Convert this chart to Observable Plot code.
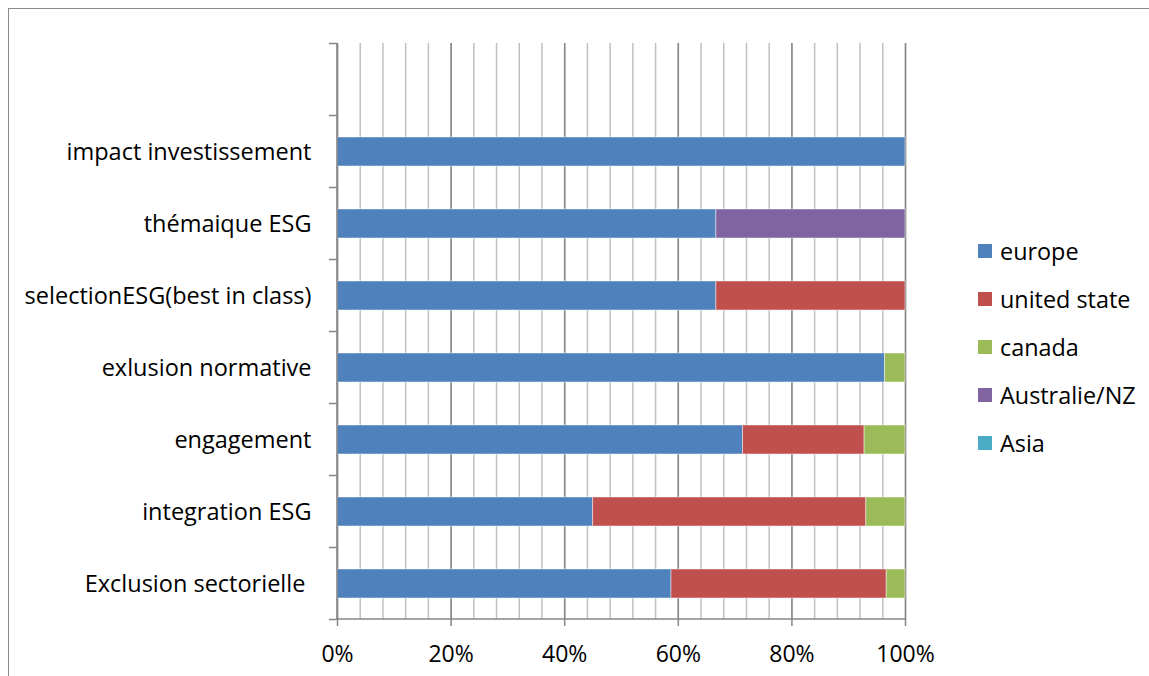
<!DOCTYPE html>
<html>
<head>
<meta charset="utf-8">
<script src="https://cdn.jsdelivr.net/npm/d3@7"></script>
<script src="https://cdn.jsdelivr.net/npm/@observablehq/plot@0.6"></script>
<style>
  html, body { margin: 0; padding: 0; background: #fff; }
  #wrap { position: relative; width: 1149px; height: 676px; overflow: hidden; font-family: "Open Sans", sans-serif; }
  #border { position: absolute; left: 8px; top: 8px; width: 2000px; height: 2000px; border-left: 1.5px solid #8c8c8c; border-top: 1.5px solid #8c8c8c; }
  #chart { position: absolute; left: 0; top: 0; }
  #chart svg text { white-space: pre; }
  #legend { position: absolute; left: 978px; top: 227px; }
  .item { display: flex; align-items: center; height: 48px; font-size: 23.4px; color: #000; }
  .sw { width: 14px; height: 14px; margin-right: 8px; }
</style>
</head>
<body>
<div id="wrap">
  <div id="border"></div>
  <div id="chart"></div>
  <div id="legend"></div>
</div>
<script>
// Strategy categories, bottom to top (last slot is left empty)
const categories = [
  "Exclusion sectorielle ",
  "integration ESG",
  "engagement",
  "exlusion normative",
  "selectionESG(best in class)",
  "thémaique ESG",
  "impact investissement",
  ""
];

// Share of each region per strategy
const europe      = [0.588, 0.450, 0.714, 0.964, 0.667, 0.667, 1.000, 0];
const unitedState = [0.379, 0.481, 0.214, 0.000, 0.333, 0.000, 0.000, 0];
const canada      = [0.033, 0.069, 0.072, 0.036, 0.000, 0.000, 0.000, 0];
const australieNZ = [0.000, 0.000, 0.000, 0.000, 0.000, 0.333, 0.000, 0];
const asia        = [0.000, 0.000, 0.000, 0.000, 0.000, 0.000, 0.000, 0];

const seriesNames  = ["europe", "united state", "canada", "Australie/NZ", "Asia"];
const seriesValues = [europe, unitedState, canada, australieNZ, asia];
const seriesColors = ["#4F81BD", "#C0504D", "#9BBB59", "#8064A2", "#4BACC6"];

const xTicks = [0, 0.2, 0.4, 0.6, 0.8, 1];
const minorTicks = d3.range(0, 26).map(i => i / 25);

// Long table for the stacked bars
const rows = [];
seriesNames.forEach((name, s) => {
  categories.forEach((cat, i) => {
    rows.push({category: cat, region: name, value: seriesValues[s][i]});
  });
});

const axisGray = "#868686";
const gridGray = "#c0c0c0";

// Category axis line with ticks on the band boundaries, plus the bottom axis line
function frameAndBandTicks(index, scales, values, dimensions) {
  const {width, height, marginLeft, marginRight, marginTop, marginBottom} = dimensions;
  const y = scales.y;
  const step = y.step(), bw = y.bandwidth();
  const g = d3.create("svg:g").attr("stroke", axisGray).attr("stroke-width", 1.5);
  const x0 = marginLeft, bottom = height - marginBottom;
  g.append("line").attr("x1", x0).attr("x2", x0).attr("y1", marginTop).attr("y2", bottom);
  g.append("line").attr("x1", x0).attr("x2", width - marginRight).attr("y1", bottom).attr("y2", bottom);
  const edges = y.domain().map(d => y(d) - (step - bw) / 2);
  edges.push(edges[edges.length - 1] + step);
  for (const e of edges) {
    g.append("line").attr("x1", x0 - 8).attr("x2", x0).attr("y1", e).attr("y2", e);
  }
  return g.node();
}

const plot = Plot.plot({
  width: 1149,
  height: 676,
  marginLeft: 337,
  marginRight: 244,
  marginTop: 43,
  marginBottom: 57,
  style: {fontFamily: "'Open Sans', sans-serif", background: "transparent", color: "#000"},
  x: {domain: [0, 1]},
  y: {domain: [...categories].reverse(), paddingInner: 0.6, paddingOuter: 0.3},
  color: {domain: seriesNames, range: seriesColors},
  marks: [
    Plot.ruleX(minorTicks, {x: d => d, stroke: gridGray, strokeWidth: 1.5}),
    Plot.ruleX(xTicks, {x: d => d, stroke: axisGray, strokeWidth: 1.5}),
    Plot.barX(rows, {
      x: "value", y: "category", fill: "region",
      stroke: "white", strokeOpacity: 0.45, strokeWidth: 1
    }),
    frameAndBandTicks,
    Plot.axisY({tickSize: 0, tickPadding: 26, fontSize: 23.5, label: null}),
    Plot.axisX({ticks: xTicks, tickFormat: d3.format(".0%"), tickSize: 7, tickPadding: 19,
                stroke: axisGray, strokeWidth: 1.5, fontSize: 23, label: null})
  ]
});
document.getElementById("chart").append(plot);

// Legend to the right of the plot
const legend = d3.select("#legend");
seriesNames.forEach((name, i) => {
  const item = legend.append("div").attr("class", "item");
  item.append("div").attr("class", "sw").style("background", seriesColors[i]);
  item.append("span").text(name);
});
</script>
</body>
</html>
